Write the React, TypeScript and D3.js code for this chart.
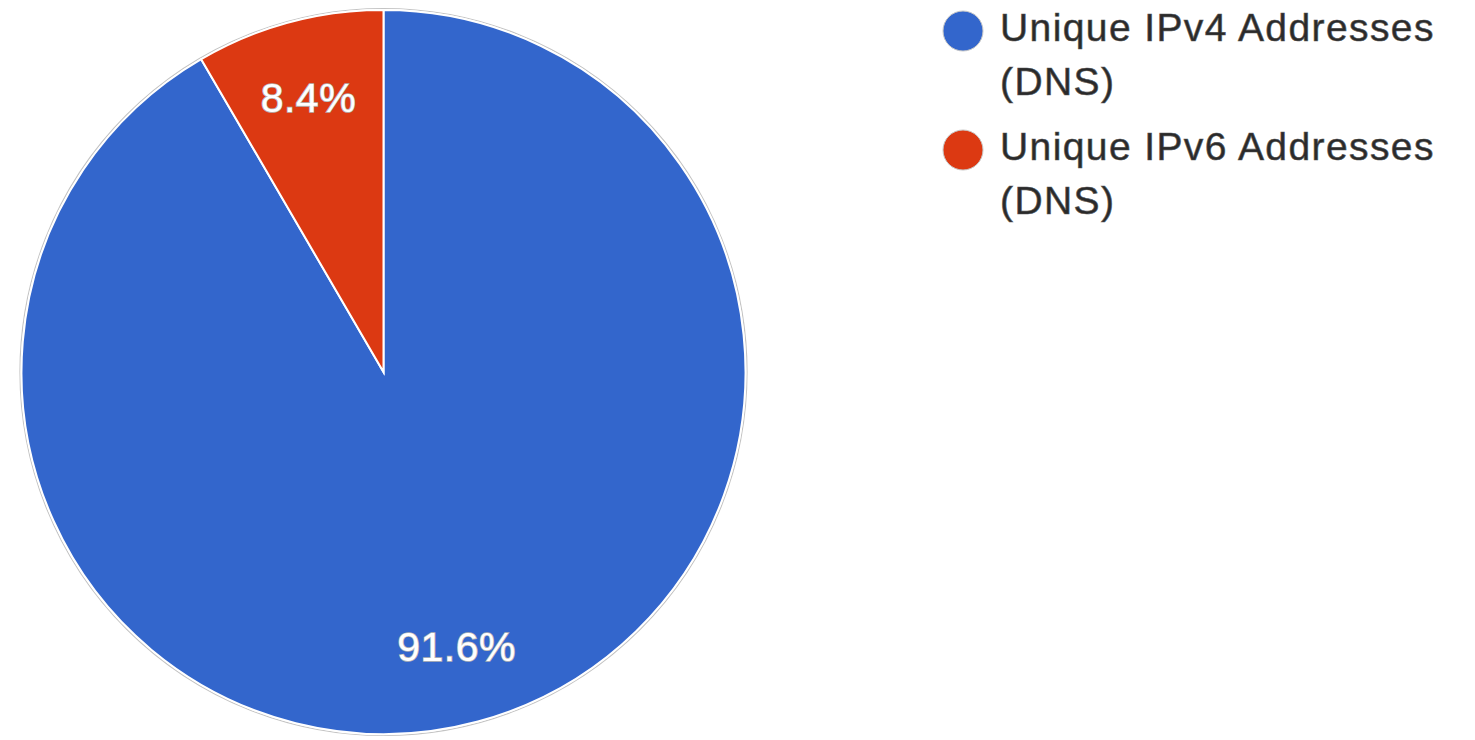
import React from "react";
import * as d3 from "d3";

const categories = ["Unique IPv4 Addresses (DNS)", "Unique IPv6 Addresses (DNS)"];
const legendLines = [["Unique IPv4 Addresses", "(DNS)"], ["Unique IPv6 Addresses", "(DNS)"]];
const values = [91.6, 8.4];
const colors = ["#3366cc", "#dc3912"];

export default function App() {
  const W = 1475, H = 740;
  const cx = 383.5, cy = 372, r = 362;
  const pie = d3.pie<number>().sort(null).value((d) => d);
  const arcs = pie(values);
  const arc = d3.arc<d3.PieArcDatum<number>>().innerRadius(0).outerRadius(r);
  const labelArc = d3.arc<d3.PieArcDatum<number>>().innerRadius(r * 0.785).outerRadius(r * 0.785);
  const total = d3.sum(values);
  const font = "'Liberation Sans', Arial, Helvetica, sans-serif";
  return (
    <svg width={W} height={H} style={{ position: "absolute", left: 0, top: 0, background: "#fff" }}>
      <g transform={`translate(${cx},${cy})`}>
        <circle r={r + 1.5} fill="none" stroke="#c4c4c4" strokeWidth={1.2} />
        {arcs.map((a, i) => (
          <path key={i} d={arc(a) || ""} fill={colors[i]} stroke="#ffffff" strokeWidth={2} />
        ))}
        {arcs.map((a, i) => {
          const [x, y] = labelArc.centroid(a);
          return (
            <text key={i} x={x - 1} y={y} dy="0.36em" textAnchor="middle" fontFamily={font} fontSize={41}
              letterSpacing={0.5} fill="#ffffff" stroke="#b4b4b4" strokeWidth={1.6} style={{ paintOrder: "stroke" }}>
              {((a.data / total) * 100).toFixed(1)}%
            </text>
          );
        })}
      </g>
      {legendLines.map((lines, i) => (
        <g key={i} transform={`translate(0,${i * 119})`}>
          <circle cx={963} cy={31} r={20} fill={colors[i]} stroke="#c8c8c8" strokeWidth={1} />
          {lines.map((t, j) => (
            <text key={j} x={1000} y={41 + j * 54} fontFamily={font} fontSize={39} letterSpacing={1.4}
              fill="#2a2a2a" stroke="#555555" strokeWidth={0.6}>
              {t}
            </text>
          ))}
        </g>
      ))}
    </svg>
  );
}
